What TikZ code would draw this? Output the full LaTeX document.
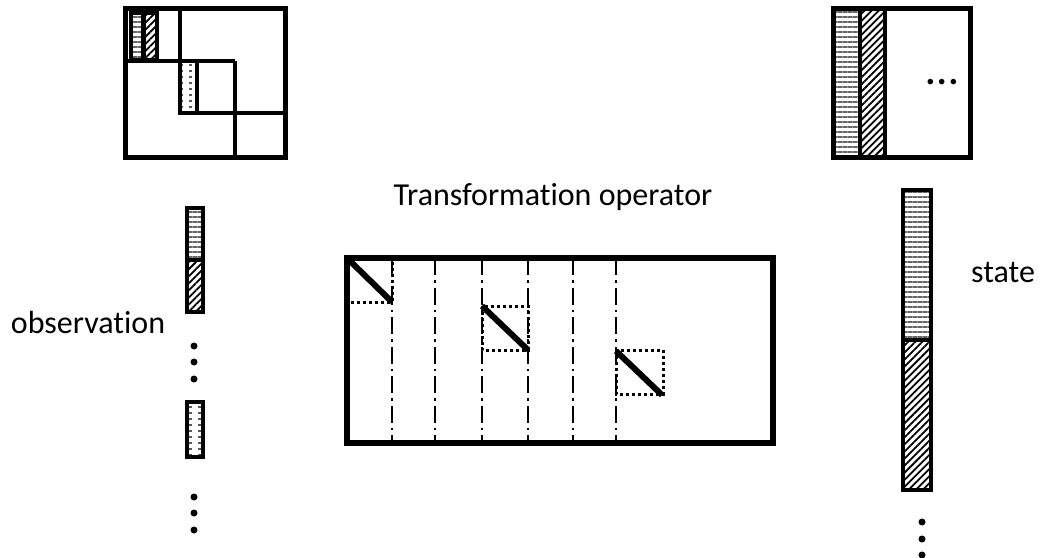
\documentclass[tikz,border=0pt]{standalone}
\usepackage{fontspec}
\setmainfont{Carlito}[Ligatures=NoCommon]
\usetikzlibrary{patterns,patterns.meta,positioning,calc}

\tikzdeclarepattern{
    name=hdash,
    type=uncolored,
    tile size={(9pt,6pt)},
    bounding box={(0pt,-1pt) and (9pt,1pt)},
    code={\draw[line width=1.4pt] (0pt,0pt) -- (3pt,0pt);}
}

\tikzset{
    mframe/.style={draw, line width=5pt},
    block/.style={draw, line width=4pt},
    hstripe/.style={draw, line width=3.5pt, pattern={Lines[angle=0, distance=5pt, line width=1.3pt]}, pattern color=black!60},
    dstripe/.style={draw, line width=3.5pt, pattern={Lines[angle=45, distance=5pt, line width=1.8pt]}, pattern color=black},
    tstripe/.style={draw, line width=3.5pt, pattern=hdash, pattern color=black!65},
    slice/.style={line width=2.6pt, dash pattern=on 17pt off 5pt on 2.5pt off 5pt},
    subbox/.style={line width=3pt, dash pattern=on 3pt off 3pt},
    diag/.style={line width=6pt},
    caption/.style={font=\fontsize{32}{38}\selectfont, inner sep=0pt, anchor=base},
}

\begin{document}
\begin{tikzpicture}[x=1pt, y=-1pt]
    \useasboundingbox (0,0) rectangle (1040,557);

    % Covariance blocks, top left
    \draw[hstripe] (131,13) rectangle (143,60);
    \draw[dstripe] (144,13) rectangle (157,60);
    \draw[tstripe] (180,61) rectangle (197,113);
    \draw[block] (180,8) -- (180,113);
    \draw[block] (125,61) -- (235,61);
    \draw[block] (235,61) -- (235,157);
    \draw[block] (180,113) -- (285,113);
    \draw[mframe] (125,8) rectangle (285,157);

    % Ensemble matrix, top right
    \draw[hstripe] (833,8) rectangle (860,157);
    \draw[dstripe] (860,8) rectangle (885,157);
    \draw[mframe] (833,8) rectangle (970,157);
    \node[caption, anchor=center, font=\fontsize{46}{50}\selectfont] (more) at (942,82) {…};

    % Observation vector
    \draw[hstripe] (187,208) rectangle (203,260);
    \draw[dstripe] (187,260) rectangle (203,312);
    \draw[tstripe] (187,402) rectangle (203,457);
    \foreach \y in {346,362,379,497,513,530}
        \fill (194,\y) circle (3.5pt);
    \node[caption] (obs) at (88,333) {observation};

    % State vector
    \draw[hstripe] (903,190) rectangle (931,340);
    \draw[dstripe] (903,340) rectangle (931,490);
    \foreach \y in {522,539,555}
        \fill (922,\y) circle (3.5pt);
    \node[caption] (state) at (1003,282) {state};

    % Transformation operator
    \node[caption] (title) at (553,205) {Transformation operator};
    \foreach \x in {392,435,482,528,573,616}
        \draw[slice] (\x,258) -- (\x,443);
    \draw[subbox] (347,258) rectangle (392,302);
    \draw[subbox] (482,306) rectangle (528,350);
    \draw[subbox] (616,350) rectangle (663,394);
    \draw[diag] (348,259) -- (392,302);
    \draw[diag] (482,306) -- (528,350);
    \draw[diag] (616,351) -- (662,395);
    \draw[line width=6pt] (347,258) rectangle (773,443);
\end{tikzpicture}
\end{document}
